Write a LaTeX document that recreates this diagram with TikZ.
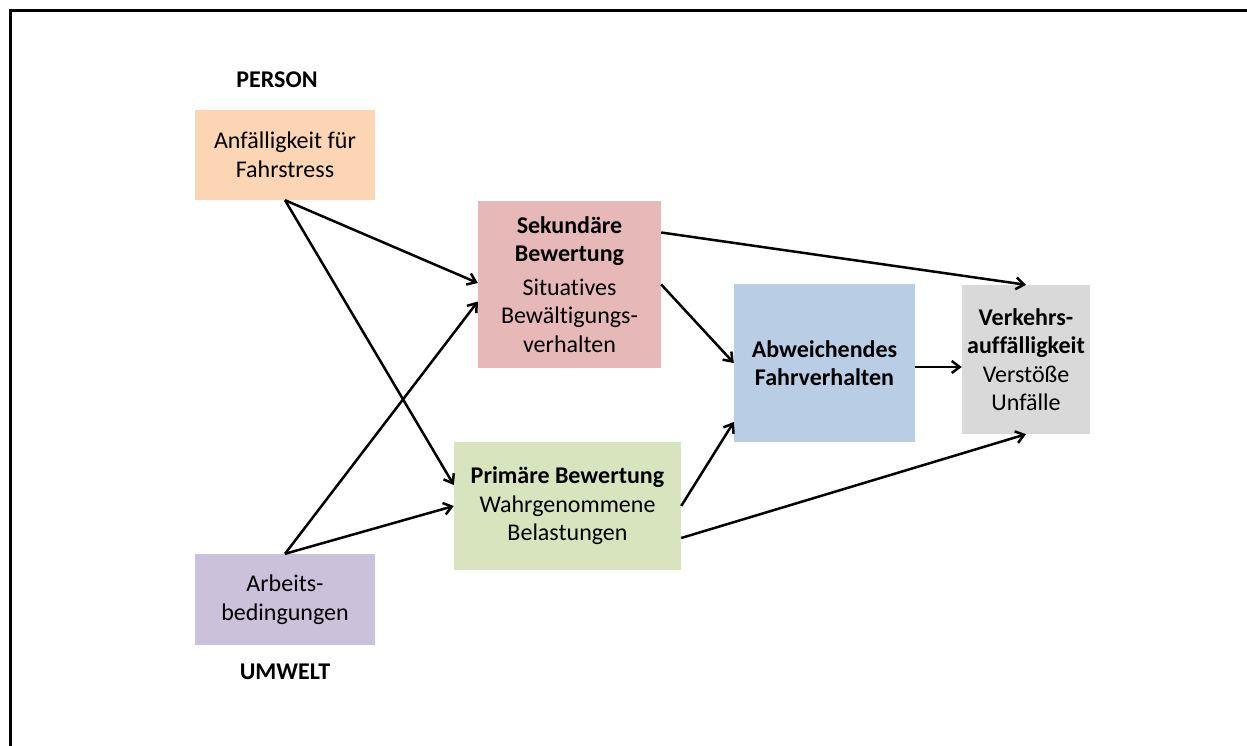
\documentclass[tikz,border=0pt]{standalone}
\usepackage{fontspec}
\setmainfont{Carlito}[Ligatures=NoCommon]
\usetikzlibrary{arrows.meta}
\definecolor{personfill}{HTML}{FCD5B4}
\definecolor{sekfill}{HTML}{E6B9B8}
\definecolor{abwfill}{HTML}{B9CDE5}
\definecolor{verkfill}{HTML}{D9D9D9}
\definecolor{primfill}{HTML}{D7E4BD}
\definecolor{arbfill}{HTML}{CCC1DA}
\tikzset{
  factor/.style={inner sep=0pt, align=center, font=\fontsize{24pt}{28.5pt}\selectfont},
  heading/.style={inner sep=0pt, font=\fontsize{24pt}{28.5pt}\selectfont\bfseries},
  arr/.style={line width=2.5pt, -{Straight Barb[length=8pt,width=12pt]}},
}

\begin{document}
\begin{tikzpicture}[x=1pt, y=-1pt]
  \useasboundingbox (0,0) rectangle (1247,746);
  % Frame
  \draw[line width=3pt] (10,746) -- (10,11) -- (1247,11);

  % Factors
  \node[heading] (person) at (277,80) {PERSON};
  \node[factor, fill=personfill, minimum width=180pt, minimum height=90pt] (anf) at (285,155) {Anfälligkeit für\\Fahrstress};
  \node[factor, fill=arbfill, minimum width=180pt, minimum height=91pt] (arb) at (285,599.5) {Arbeits-\\bedingungen};
  \node[heading] (umwelt) at (285,672) {UMWELT};

  \node[factor, fill=sekfill, minimum width=183pt, minimum height=167pt] (sek) at (569.5,284.5) {\textbf{Sekundäre}\\\textbf{Bewertung}\\[5pt]Situatives\\Bewältigungs-\\verhalten};
  \node[factor, fill=primfill, minimum width=227pt, minimum height=128pt] (prim) at (567.5,506) {\textbf{Primäre Bewertung}\\Wahrgenommene\\Belastungen};
  \node[factor, fill=abwfill, minimum width=181pt, minimum height=158pt] (abw) at (824.5,363) {\textbf{Abweichendes}\\\textbf{Fahrverhalten}};
  \node[factor, fill=verkfill, minimum width=128pt, minimum height=149pt] (verk) at (1026,359.5) {\textbf{Verkehrs-}\\\textbf{auffälligkeit}\\Verstöße\\Unfälle};

  % Arrows
  \draw[arr] (anf.south) -- ([yshift=1.5pt]sek.west);
  \draw[arr] (anf.south) -- ([yshift=21pt]prim.west);
  \draw[arr] (arb.north) -- ([yshift=-17pt]sek.west);
  \draw[arr] (arb.north) -- (prim.west);
  \draw[arr] ([yshift=52pt]sek.east) -- (verk.north);
  \draw[arr] (sek.east) -- (abw.west);
  \draw[arr] (prim.east) -- ([yshift=-59pt]abw.west);
  \draw[arr] ([yshift=-4pt]abw.east) -- ([yshift=-4pt]abw.east -| verk.west);
  \draw[arr] ([yshift=-32pt]prim.east) -- (verk.south);
\end{tikzpicture}
\end{document}
